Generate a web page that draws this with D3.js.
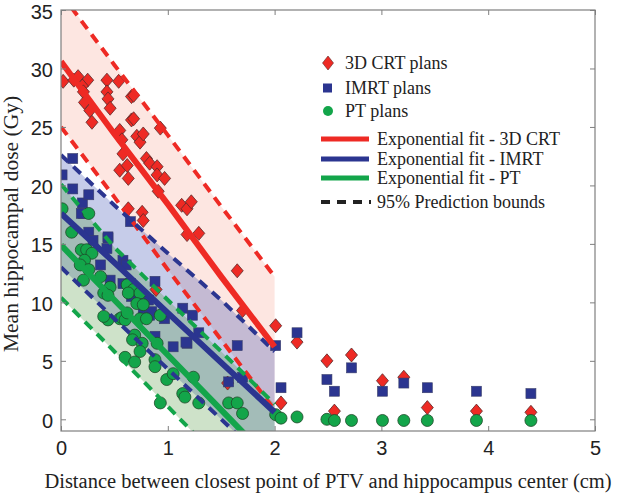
<!DOCTYPE html>
<html><head><meta charset="utf-8">
<script src="https://cdn.jsdelivr.net/npm/d3@7"></script>
<style>body{margin:0;background:#fff}svg{display:block}</style>
</head><body><svg id="c" width="620" height="495"></svg>
<script>
const xTicks=[0,1,2,3,4,5];
const yTicks=[0,5,10,15,20,25,30,35];
const crtX=[0.02,0.12,0.16,0.25,0.20,0.21,0.22,0.27,0.29,0.43,0.43,0.44,0.46,0.54,0.66,0.68,0.55,0.57,0.58,0.55,0.62,0.63,0.66,0.68,0.71,0.74,0.77,0.80,0.83,0.90,0.90,0.91,0.97,0.93,1.13,1.18,1.22,1.18,1.29,0.63,0.76,0.77,1.65,1.70,2.01,2.21,2.06,0.89,1.56,2.49,2.56,2.72,3.01,3.21,3.43,3.89,4.40];
const crtY=[28.9,29.0,29.3,29.0,28.5,28.0,27.1,26.4,25.4,29.0,28.0,27.4,26.6,28.9,27.6,27.7,24.7,23.9,22.7,21.3,21.7,20.6,25.6,25.7,24.2,23.7,24.4,22.3,21.9,21.6,20.9,19.5,20.6,24.9,18.3,18.0,18.6,15.8,15.9,18.0,17.7,17.0,12.7,9.3,8.0,6.6,1.4,11.1,3.1,5.0,0.7,5.5,3.3,3.6,1.0,0.7,0.6];
const imrtX=[0.01,0.11,0.11,0.20,0.26,0.21,0.44,0.65,0.19,0.26,0.30,0.44,0.43,0.37,0.46,0.58,0.61,0.58,0.65,0.66,0.72,0.77,0.82,0.88,0.83,0.88,0.97,1.05,1.14,1.18,1.23,1.29,1.57,1.65,1.70,2.01,2.06,2.21,1.17,0.85,2.49,2.56,2.72,3.01,3.21,3.43,3.89,4.40];
const imrtY=[20.9,22.3,19.7,18.5,19.2,17.6,15.5,16.9,17.6,16.0,15.3,15.6,14.6,13.2,11.9,13.6,13.2,11.6,11.6,10.5,10.5,9.5,10.2,11.8,8.9,7.1,8.6,6.2,9.5,6.5,8.9,7.4,3.2,6.3,3.6,6.3,2.7,7.4,6.6,9.2,3.4,2.4,4.4,2.4,3.1,2.7,2.4,2.2];
const ptX=[0.01,0.26,0.10,0.19,0.24,0.29,0.22,0.18,0.26,0.21,0.37,0.46,0.40,0.44,0.62,0.68,0.63,0.74,0.71,0.77,0.55,0.57,0.60,0.44,0.40,0.62,0.74,0.80,0.69,0.67,0.76,0.74,0.90,0.88,0.88,0.93,0.99,1.05,1.14,1.16,1.24,1.29,0.93,0.60,0.69,1.57,1.65,1.70,2.01,2.06,2.21,2.49,2.56,2.72,3.01,3.21,3.43,3.89,4.40];
const ptY=[18.0,17.6,16.0,14.5,14.5,14.2,13.6,13.2,12.8,11.9,12.2,11.3,10.8,10.6,11.5,11.1,10.8,10.8,9.9,9.8,8.6,8.7,8.5,8.5,8.8,9.1,8.6,8.6,7.2,6.8,6.5,5.8,6.5,5.1,4.5,8.9,3.4,3.9,2.2,1.9,3.6,1.4,1.4,5.3,4.9,1.4,1.4,0.5,0.4,0.1,0.2,0.0,-0.1,-0.1,-0.1,-0.1,-0.1,-0.1,-0.1];
const fitX=[0,0.5,1,1.5,2];
const crtFit=[30.6,24.4,18.4,12.2,6.2];
const crtUp=[36.4,30.3,24.3,18.2,12.2];
const crtLo=[25.0,19.0,12.8,6.8,0.8];
const imrtFit=[17.6,13.4,9.1,4.85,0.6];
const imrtUp=[22.6,18.3,14.2,10.2,5.8];
const imrtLo=[13.0,8.6,4.3,0.0,-4.3];
const ptFit=[14.9,10.2,5.5,0.8,-3.9];
const ptUp=[20.1,14.7,10.2,5.8,1.3];
const ptLo=[10.4,5.8,1.1,-3.6,-8.2];
const legendLabels=["3D CRT plans","IMRT plans","PT plans","Exponential fit - 3D CRT","Exponential fit - IMRT","Exponential fit - PT","95% Prediction bounds"];

const RED="#ee2a24",BLUE="#2b3590",GREEN="#13a54a";
const svg=d3.select("#c");
const L=61,R=595,T=10,B=431;
const x=d3.scaleLinear().domain([0,5]).range([L,R]);
const y=d3.scaleLinear().domain([-1,35]).range([B,T]);
svg.append("defs").append("clipPath").attr("id","cp").append("rect").attr("x",L).attr("y",T).attr("width",R-L).attr("height",B-T);
const plot=svg.append("g").attr("clip-path","url(#cp)");

const bands=[[crtUp,crtLo,"rgba(240,90,55,0.15)"],[imrtUp,imrtLo,"rgba(45,65,175,0.27)"],[ptUp,ptLo,"rgba(60,140,40,0.25)"]];
bands.forEach(([u,l,c])=>{
  const area=d3.area().x((d,i)=>x(fitX[i])).y0((d,i)=>y(l[i])).y1(d=>y(d));
  plot.append("path").datum(u).attr("d",area).attr("fill",c);
});
plot.selectAll(".crt").data(crtX).join("path").attr("transform",(d,i)=>`translate(${x(d)},${y(crtY[i])})`)
  .attr("d","M0,-7L6,0L0,7L-6,0Z").attr("fill",RED).attr("stroke","#5a2a2a").attr("stroke-width",0.8);
plot.selectAll(".imrt").data(imrtX).join("rect").attr("x",(d)=>x(d)-5).attr("y",(d,i)=>y(imrtY[i])-5)
  .attr("width",10).attr("height",10).attr("fill",BLUE).attr("stroke","#3a3f6a").attr("stroke-width",0.6);
plot.selectAll(".pt").data(ptX).join("circle").attr("cx",d=>x(d)).attr("cy",(d,i)=>y(ptY[i])).attr("r",6)
  .attr("fill",GREEN).attr("stroke","#1f4a2a").attr("stroke-width",0.8);
const line=d3.line().x((d,i)=>x(fitX[i])).y(d=>y(d));
[[crtUp,RED],[crtLo,RED],[imrtUp,BLUE],[imrtLo,BLUE],[ptUp,GREEN],[ptLo,GREEN]].forEach(([a,c])=>{
  plot.append("path").datum(a).attr("d",line).attr("fill","none").attr("stroke",c).attr("stroke-width",4).attr("stroke-dasharray","10,7");
});
[[crtFit,RED],[imrtFit,BLUE],[ptFit,GREEN]].forEach(([a,c])=>{
  plot.append("path").datum(a).attr("d",line).attr("fill","none").attr("stroke",c).attr("stroke-width",6);
});
const gray="#7f7f7f";
svg.append("rect").attr("x",L).attr("y",T).attr("width",R-L).attr("height",B-T).attr("fill","none").attr("stroke",gray).attr("stroke-width",1.2);
const ax=svg.append("g");
ax.append("g").attr("transform",`translate(0,${B})`).call(d3.axisBottom(x).tickValues(xTicks).tickSize(-5).tickPadding(10).tickFormat(d3.format("d")));
ax.append("g").attr("transform",`translate(0,${T})`).call(d3.axisTop(x).tickValues(xTicks).tickSize(-5).tickFormat(""));
ax.append("g").attr("transform",`translate(${L},0)`).call(d3.axisLeft(y).tickValues(yTicks).tickSize(-5).tickPadding(8).tickFormat(d3.format("d")));
ax.append("g").attr("transform",`translate(${R},0)`).call(d3.axisRight(y).tickValues(yTicks).tickSize(-5).tickFormat(""));
ax.selectAll(".domain").remove();
ax.selectAll(".tick line").attr("stroke",gray);
ax.selectAll(".tick text").attr("font-family","Liberation Sans, Arial, sans-serif").attr("font-size",20).attr("fill","#222");
ax.selectAll("g .tick text").filter(function(){return this.getAttribute("x")&&+this.getAttribute("x")<0;}).attr("dy","0.4em");
const serif="Liberation Serif, Times New Roman, serif";
svg.append("text").attr("x",328).attr("y",488).attr("text-anchor","middle").attr("font-family",serif).attr("font-size",20.5).attr("fill","#222")
  .text("Distance between closest point of PTV and hippocampus center (cm)");
svg.append("text").attr("transform","translate(18,224) rotate(-90)").attr("text-anchor","middle").attr("font-family",serif).attr("font-size",21.5).attr("fill","#222")
  .text("Mean hippocampal dose (Gy)");
const lg=svg.append("g");
const ly=[63,88,111,139,159,178,202];
lg.append("path").attr("transform",`translate(328,${ly[0]})`).attr("d","M0,-7L5.5,0L0,7L-5.5,0Z").attr("fill",RED).attr("stroke","#5a2a2a").attr("stroke-width",0.6);
lg.append("rect").attr("x",323).attr("y",ly[1]-4.5).attr("width",9).attr("height",9).attr("fill",BLUE);
lg.append("circle").attr("cx",328).attr("cy",ly[2]).attr("r",5).attr("fill",GREEN);
[RED,BLUE,GREEN].forEach((c,i)=>lg.append("line").attr("x1",321).attr("x2",369).attr("y1",ly[3+i]).attr("y2",ly[3+i]).attr("stroke",c).attr("stroke-width",5));
lg.append("line").attr("x1",321).attr("x2",371).attr("y1",ly[6]).attr("y2",ly[6]).attr("stroke","#222").attr("stroke-width",4).attr("stroke-dasharray","9,7");
legendLabels.forEach((t,i)=>lg.append("text").attr("x",i<3?345:377).attr("y",ly[i]).attr("dy","0.35em").attr("font-family",serif).attr("font-size",18).attr("fill","#222").text(t));
</script></body></html>
